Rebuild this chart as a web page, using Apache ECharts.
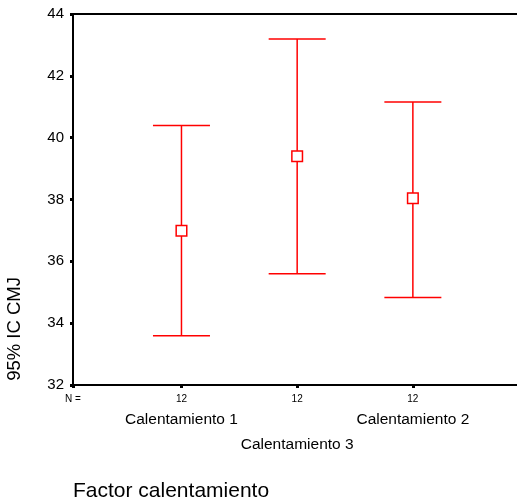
<!DOCTYPE html>
<html>
<head>
<meta charset="utf-8">
<script src="https://cdn.jsdelivr.net/npm/echarts@6/dist/echarts.min.js"></script>
<style>html,body{margin:0;padding:0;background:#fff;}#c{width:517px;height:504px;}</style>
</head>
<body>
<div id="c"></div>
<script>
var categories = ["Calentamiento 1", "Calentamiento 3", "Calentamiento 2"];
var positions = [1, 2, 3];
var means = [36.99, 39.40, 38.04];
var lowers = [33.59, 35.60, 34.83];
var uppers = [40.39, 43.19, 41.15];
var nLabels = ["12", "12", "12"];
var yTicks = [32, 34, 36, 38, 40, 42, 44];

var XMIN = 0.0625, XMAX = 3.9;
var chart = echarts.init(document.getElementById('c'), null, {renderer: 'canvas'});
var FONT = '"Liberation Sans", Arial, sans-serif';
var data = positions.map(function (p, i) { return [p, lowers[i], uppers[i], means[i]]; });

function renderItem(params, api) {
  var x = api.value(0), lo = api.value(1), hi = api.value(2), m = api.value(3);
  var pLo = api.coord([x, lo]), pHi = api.coord([x, hi]), pM = api.coord([x, m]);
  var w = 28.5, s = 5.3;
  var st = {stroke: '#ff0000', lineWidth: 1.5};
  return {type: 'group', children: [
    {type: 'line', shape: {x1: pLo[0], y1: pLo[1], x2: pHi[0], y2: pHi[1]}, style: st},
    {type: 'line', shape: {x1: pLo[0] - w, y1: pLo[1], x2: pLo[0] + w, y2: pLo[1]}, style: st},
    {type: 'line', shape: {x1: pHi[0] - w, y1: pHi[1], x2: pHi[0] + w, y2: pHi[1]}, style: st},
    {type: 'rect', shape: {x: pM[0] - s, y: pM[1] - s, width: 2 * s, height: 2 * s},
      style: {fill: '#ffffff', stroke: '#ff0000', lineWidth: 1.5}}
  ]};
}

function rowAxis(vals, margin) {
  return {
    type: 'value', position: 'bottom', offset: 0, min: XMIN, max: XMAX,
    axisLine: {show: false}, axisTick: {show: false}, splitLine: {show: false},
    axisLabel: {
      show: true, customValues: vals, margin: margin, fontSize: 15.5, color: '#000', fontFamily: FONT,
      formatter: function (v) { var i = positions.indexOf(Math.round(v)); return i >= 0 ? categories[i] : ''; }
    }
  };
}

chart.setOption({
  animation: false,
  grid: {left: 73, top: 14, right: 0, bottom: 119},
  xAxis: [
    {
      type: 'value', position: 'bottom', min: XMIN, max: XMAX,
      axisLine: {show: true, lineStyle: {color: '#000', width: 2}},
      axisTick: {show: true, customValues: [XMIN].concat(positions), length: 3, lineStyle: {color: '#000', width: 3}},
      splitLine: {show: false},
      axisLabel: {
        show: true, customValues: [XMIN].concat(positions), margin: 9, fontSize: 10, color: '#000', fontFamily: FONT,
        showMinLabel: true,
        formatter: function (v) {
          if (v < 0.5) return 'N =';
          var i = positions.indexOf(Math.round(v)); return i >= 0 ? nLabels[i] : '';
        }
      }
    },
    rowAxis([positions[0], positions[2]], 27),
    rowAxis([positions[1]], 52),
    {
      type: 'value', position: 'top', min: XMIN, max: XMAX,
      axisLine: {show: true, lineStyle: {color: '#000', width: 2}},
      axisTick: {show: false}, axisLabel: {show: false}, splitLine: {show: false}
    }
  ],
  yAxis: {
    type: 'value', min: yTicks[0], max: yTicks[yTicks.length - 1], interval: 2,
    axisLine: {show: true, lineStyle: {color: '#000', width: 2}},
    axisTick: {show: true, length: 3, lineStyle: {color: '#000', width: 3}},
    splitLine: {show: false},
    axisLabel: {margin: 9, fontSize: 15, color: '#000', fontFamily: FONT}
  },
  graphic: [
    {type: 'text', left: 5, top: 277, rotation: Math.PI / 2,
      style: {text: '95% IC CMJ', fontSize: 18.5, fill: '#000', fontFamily: FONT}},
    {type: 'text', left: 73, top: 481,
      style: {text: 'Factor calentamiento', fontSize: 21, fill: '#000', fontFamily: FONT}}
  ],
  series: [{
    type: 'custom', xAxisIndex: 0, yAxisIndex: 0, renderItem: renderItem, data: data,
    encode: {x: 0, y: [1, 2, 3]}
  }]
});
</script>
</body>
</html>
